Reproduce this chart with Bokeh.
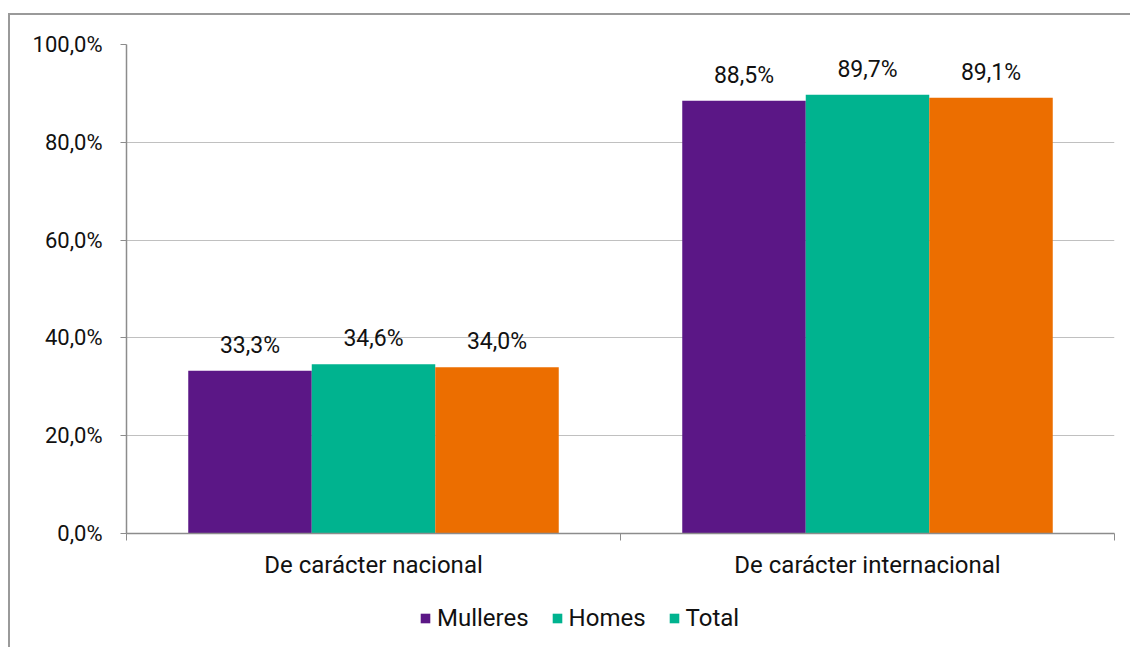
from bokeh.plotting import figure
from bokeh.layouts import column
from bokeh.models import (ColumnDataSource, FixedTicker, CustomJSTickFormatter,
                          Legend, LegendItem, Range1d)
from bokeh.core.properties import value
from bokeh.embed import file_html
from bokeh.resources import INLINE

categories = ["De carácter nacional", "De carácter internacional"]
series = ["Mulleres", "Homes", "Total"]
mulleres = [33.3, 88.5]
homes = [34.6, 89.7]
total = [34.0, 89.1]
colors = ["#5B1786", "#00B38F", "#EC6E00"]
legend_labels = ["Mulleres", "Homes", "Total"]
# the reference legend shows the "Total" swatch in the Homes colour
legend_colors = ["#5B1786", "#00B38F", "#00B38F"]
y_ticks = [0, 20, 40, 60, 80, 100]

FONT = "Roboto"
TXT = "#111111"

p = figure(width=1120, height=580, output_backend="svg", toolbar_location=None,
           x_range=Range1d(0, len(categories)), y_range=Range1d(0, 100),
           min_border_left=116, min_border_right=16, min_border_top=29,
           min_border_bottom=62)
p.outline_line_color = None

bar_w = 0.25
for i, (name, vals) in enumerate(zip(series, [mulleres, homes, total])):
    xs = [k + 0.5 + (i - 1) * bar_w for k in range(len(categories))]
    labels = [f"{v:.1f}".replace(".", ",") + "%" for v in vals]
    src = ColumnDataSource(dict(x=xs, top=vals, label=labels))
    p.vbar(x="x", top="top", width=bar_w, source=src, fill_color=colors[i],
           line_color=None)
    p.text(x="x", y="top", text="label", source=src, text_align="center",
           text_baseline="bottom", y_offset=-12, text_font=value(FONT),
           text_font_size="23px", text_color=TXT)

# x axis: labels at centres, tick marks at category boundaries
xa = p.xaxis[0]
xa.ticker = FixedTicker(ticks=[k + 0.5 for k in range(len(categories))],
                        minor_ticks=list(range(len(categories) + 1)))
xa.formatter = CustomJSTickFormatter(args=dict(cats=categories),
                                     code="return cats[Math.floor(tick)];")
xa.major_tick_line_color = None
xa.minor_tick_line_color = "#8c8c8c"
xa.minor_tick_out = 7
xa.minor_tick_in = 0
xa.axis_line_color = "#8c8c8c"
xa.axis_line_width = 1.5
xa.major_label_standoff = 10
xa.major_label_text_font = FONT
xa.major_label_text_font_size = "24px"
xa.major_label_text_color = TXT

ya = p.yaxis[0]
ya.ticker = FixedTicker(ticks=y_ticks)
ya.formatter = CustomJSTickFormatter(code="return tick.toFixed(1).replace('.', ',') + '%';")
ya.axis_line_color = "#8c8c8c"
ya.axis_line_width = 1.5
ya.major_tick_line_color = "#8c8c8c"
ya.major_tick_out = 6
ya.major_tick_in = 0
ya.minor_tick_line_color = None
ya.major_label_standoff = 18
ya.major_label_text_font = FONT
ya.major_label_text_font_size = "22px"
ya.major_label_text_color = TXT

p.xgrid.grid_line_color = None
p.ygrid.ticker = FixedTicker(ticks=y_ticks)
p.ygrid.grid_line_color = "#c0c0c0"
p.ygrid.grid_line_width = 1

# legend strip below the chart (zero-height proxy bars provide the swatches)
lf = figure(width=1120, height=52, output_backend="svg", toolbar_location=None,
            x_range=Range1d(0, 1), y_range=Range1d(0, 1),
            min_border_left=0, min_border_right=0, min_border_top=0,
            min_border_bottom=0)
lf.axis.visible = False
lf.grid.visible = False
lf.outline_line_color = None
items = []
for lab, col in zip(legend_labels, legend_colors):
    r = lf.vbar(x=[0.5], top=[0], bottom=[0], width=0.01, fill_color=col,
                line_color=None)
    items.append(LegendItem(label=lab, renderers=[r]))
legend = Legend(items=items, orientation="horizontal", location=(293, 15),
                glyph_width=12, glyph_height=12, label_standoff=6, spacing=22,
                padding=0, margin=0, label_height=22,
                label_text_font=FONT, label_text_font_size="24px",
                label_text_color=TXT, border_line_color=None,
                background_fill_alpha=0)
lf.add_layout(legend, "center")

page = column(p, lf, spacing=0)
page.styles = {"margin-top": "13px", "margin-left": "8px",
               "border-left": "2px solid #9a9a9a", "border-top": "2px solid #9a9a9a"}

open("out.html", "w").write(file_html(page, INLINE))
